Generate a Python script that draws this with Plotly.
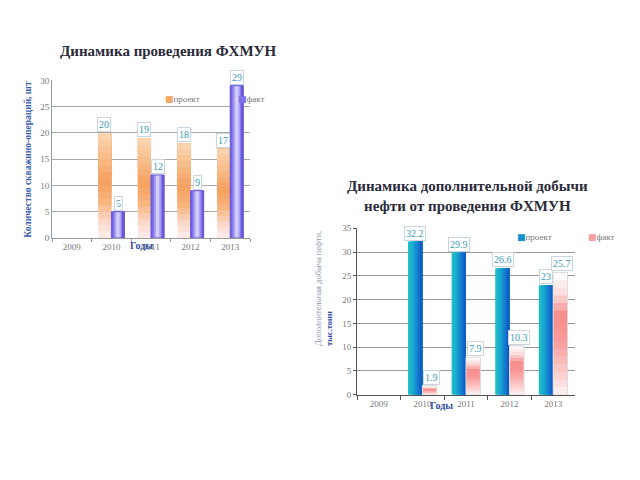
import plotly.graph_objects as go

years = ["2009", "2010", "2011", "2012", "2013"]
ops_plan = [None, 20, 19, 18, 17]
ops_fact = [None, 5, 12, 9, 29]
oil_plan = [None, 32.2, 29.9, 26.6, 23]
oil_fact = [None, 1.9, 7.9, 10.3, 25.7]

title1 = "Динамика проведения ФХМУН"
title2 = "Динамика дополнительной добычи<br>нефти от проведения ФХМУН"
ytitle1 = "Количество скважино-операций, шт"
ytitle2 = "Дополнительная добыча нефти,<br><b><span style='color:#3550a8'>тыс.тонн</span></b>"
xtitle = "Годы"
plan_name = "проект"
fact_name = "факт"

SERIF = "Liberation Serif"
BW = 0.33  # bar width in category units
fig = go.Figure()


def hexrgb(h):
    h = h.lstrip("#")
    return [int(h[i:i + 2], 16) for i in (0, 2, 4)]


def interp(stops, t):
    for (t0, c0), (t1, c1) in zip(stops, stops[1:]):
        if t0 <= t <= t1:
            u = 0 if t1 == t0 else (t - t0) / (t1 - t0)
            a, b = hexrgb(c0), hexrgb(c1)
            return "rgb(%d,%d,%d)" % tuple(round(a[i] + (b[i] - a[i]) * u) for i in range(3))
    return stops[-1][1]


def vertical_gradient(vals, xa, ya, off, stops, n=16):
    # each layer runs from a fraction of the bar height up to its top; later layers cover earlier
    for k in range(n):
        f0 = k / n
        fig.add_trace(go.Bar(
            x=years, y=[None if v is None else v * (1 - f0) for v in vals],
            base=[None if v is None else v * f0 for v in vals],
            offset=off, width=BW, xaxis=xa, yaxis=ya, showlegend=False, hoverinfo="skip",
            marker=dict(color=interp(stops, (k + 0.5) / n), line=dict(width=0))))


def horizontal_gradient(vals, xa, ya, off, stops, n=8):
    # side-by-side strips of each bar, coloured across the bar width
    w = BW / n
    for k in range(n):
        fig.add_trace(go.Bar(
            x=years, y=vals, offset=off + k * w, width=BW - k * w, xaxis=xa, yaxis=ya,
            showlegend=False, hoverinfo="skip",
            marker=dict(color=interp(stops, (k + 0.5) / n), line=dict(width=0))))


def outline(vals, xa, ya, off, color):
    fig.add_trace(go.Bar(x=years, y=vals, offset=off, width=BW, xaxis=xa, yaxis=ya,
                         showlegend=False, hoverinfo="skip",
                         marker=dict(color="rgba(0,0,0,0)", line=dict(color=color, width=1))))


orange_stops = [(0, "#fdeeee"), (0.15, "#fbd9cc"), (0.35, "#f8b47c"), (0.55, "#f5a060"),
                (0.8, "#f8c08e"), (1.0, "#fbd7b4")]
purple_stops = [(0, "#6252d8"), (0.2, "#8a7ef0"), (0.5, "#e6e2fd"), (0.8, "#8a7ef0"), (1.0, "#5a4ad0")]
blue_stops = [(0, "#20c4c4"), (0.35, "#18a8d0"), (0.7, "#1478d0"), (1.0, "#0c58c0")]
pink_stops = [(0, "#fff4f4"), (0.15, "#fcd2d2"), (0.45, "#f99a9a"), (0.65, "#f88c8c"),
              (0.82, "#fcdada"), (1.0, "#ffffff")]

vertical_gradient(ops_plan, "x", "y", -BW, orange_stops)
horizontal_gradient(ops_fact, "x", "y", 0.0, purple_stops)
outline(ops_fact, "x", "y", 0.0, "#6a5ad8")
horizontal_gradient(oil_plan, "x2", "y2", -BW, blue_stops)
vertical_gradient(oil_fact, "x2", "y2", 0.0, pink_stops)
outline(oil_fact, "x2", "y2", 0.0, "#dddddd")

annotations = []


def add_labels(vals, xa, ya, shift):
    for i, v in enumerate(vals):
        if v is None:
            continue
        annotations.append(dict(x=i, y=v, xref=xa, yref=ya, xshift=shift, yshift=1,
                                text=f"{v:g}", showarrow=False, xanchor="center", yanchor="bottom",
                                font=dict(family=SERIF, size=10, color="#3a9ab8"),
                                bgcolor="white", bordercolor="#c9d6e0", borderwidth=1, borderpad=1))


add_labels(ops_plan, "x", "y", -7)
add_labels(ops_fact, "x", "y", 7)
add_labels(oil_plan, "x2", "y2", -7)
add_labels(oil_fact, "x2", "y2", 9)


def pa(text, x, y, size, color, angle=0, xanchor="center", align="center"):
    return dict(text=text, x=x / 640, y=1 - y / 480, xref="paper", yref="paper",
                xanchor=xanchor, yanchor="middle", showarrow=False, textangle=angle, align=align,
                font=dict(family=SERIF, size=size, color=color))


def legend_item(color, name):
    return f"<span style='color:{color};font-family:DejaVu Sans'>■</span>{name}"


annotations += [
    pa(f"<b>{title1}</b>", 168, 47, 15, "#2a2a3a"),
    pa(f"<b>{title2}</b>", 467, 195, 15, "#2a2a3a"),
    pa(f"<b>{xtitle}</b>", 141, 246, 10, "#2f4fa0"),
    pa(f"<b>{xtitle}</b>", 441, 409, 10, "#2f4fa0"),
    pa(f"<b>{ytitle1}</b>", 28, 158, 9.5, "#3b5fb0", -90),
    pa(ytitle2, 324, 290, 8.5, "#8890a8", -90, align="left"),
    pa(legend_item("#f5a868", plan_name), 163, 96, 9, "#777777", xanchor="left"),
    pa(legend_item("#7d70ec", fact_name), 236, 96, 9, "#777777", xanchor="left"),
    pa(legend_item("#1890d0", plan_name), 515, 237, 9, "#777777", xanchor="left"),
    pa(legend_item("#f7a0a0", fact_name), 586, 237, 9, "#777777", xanchor="left"),
]

tickfont = dict(family=SERIF, size=9, color="#777777")
fig.update_layout(
    width=640, height=480, margin=dict(l=0, r=0, t=0, b=0), autosize=False,
    paper_bgcolor="white", plot_bgcolor="white",
    barmode="overlay", showlegend=False,
    xaxis=dict(domain=[52 / 640, 250 / 640], anchor="y", type="category", range=[-0.5, 4.5],
               tickfont=tickfont, showgrid=False, tickson="boundaries",
               showline=True, linecolor="#999999", ticks="outside", ticklen=3, tickcolor="#999999"),
    yaxis=dict(domain=[1 - 238 / 480, 1 - 77 / 480], anchor="x", range=[0, 30], dtick=5,
               tickfont=tickfont, gridcolor="#a8a8a8", showline=True, linecolor="#999999",
               zeroline=False, ticks=""),
    xaxis2=dict(domain=[357 / 640, 575 / 640], anchor="y2", type="category", range=[-0.5, 4.5],
                tickfont=tickfont, showgrid=False, tickson="boundaries",
                showline=True, linecolor="#555555", ticks="outside", ticklen=4, tickcolor="#555555"),
    yaxis2=dict(domain=[1 - 398 / 480, 1 - 228 / 480], anchor="x2", range=[0, 35], dtick=5,
                tickfont=tickfont, gridcolor="#9a9a9a", showline=True, linecolor="#555555",
                zeroline=False, ticks="outside", ticklen=3, tickcolor="#555555"),
    annotations=annotations,
)

fig.write_html("out.html", config={"responsive": False, "displayModeBar": False},
               post_script="document.body.style.margin='0';document.body.style.overflow='hidden';")
